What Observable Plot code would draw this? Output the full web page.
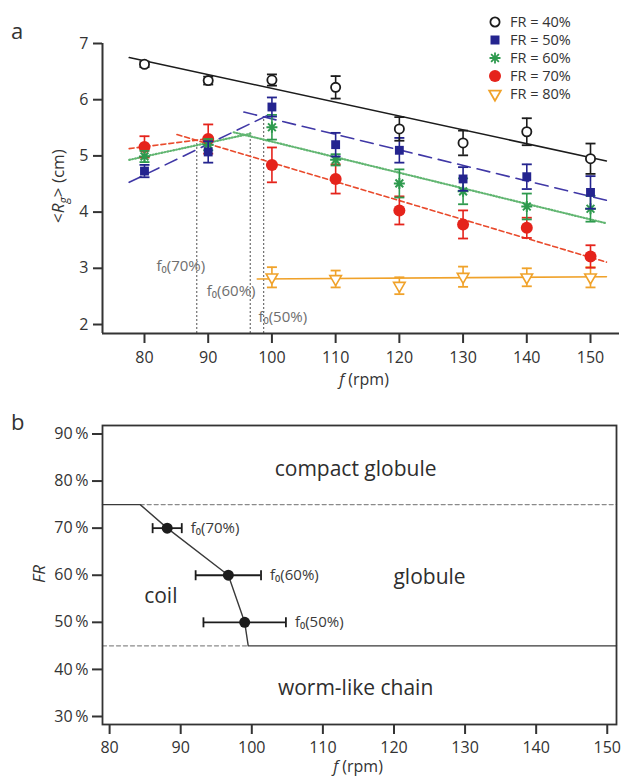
<!DOCTYPE html>
<html><head><meta charset="utf-8">
<script src="https://cdn.jsdelivr.net/npm/d3@7"></script>
<script src="https://cdn.jsdelivr.net/npm/@observablehq/plot@0.6"></script>
<style>
body{margin:0;background:#fff;}
#wrap{position:relative;width:623px;height:780px;overflow:hidden;font-family:"Open Sans",sans-serif;color:#333;background:#fff}
.pane{position:absolute;left:0;width:623px;height:390px}
</style></head>
<body><div id="wrap"><div id="pa" class="pane" style="top:0"></div><div id="pb" class="pane" style="top:390px"></div></div>
<script>
// ---------- Panel a data ----------
const speeds = [80, 90, 100, 110, 120, 130, 140, 150];
const speeds80 = [100, 110, 120, 130, 140, 150];
const rg40 = [6.63, 6.34, 6.35, 6.22, 5.48, 5.23, 5.43, 4.95];
const err40 = [0.05, 0.07, 0.10, 0.20, 0.21, 0.22, 0.24, 0.27];
const rg50 = [4.73, 5.07, 5.87, 5.20, 5.10, 4.59, 4.63, 4.35];
const err50 = [0.11, 0.19, 0.17, 0.21, 0.22, 0.21, 0.22, 0.29];
const rg60 = [4.99, 5.20, 5.51, 4.93, 4.51, 4.37, 4.10, 4.06];
const err60 = [0.10, 0.10, 0.22, 0.10, 0.25, 0.23, 0.23, 0.23];
const rg70 = [5.16, 5.30, 4.84, 4.59, 4.03, 3.78, 3.72, 3.21];
const err70 = [0.19, 0.26, 0.31, 0.26, 0.25, 0.25, 0.18, 0.20];
const rg80 = [2.84, 2.81, 2.69, 2.85, 2.84, 2.84];
const err80 = [0.18, 0.15, 0.15, 0.18, 0.16, 0.18];

// fitted lines (end points)
const fit40F = [77.6, 152.5], fit40Rg = [6.75, 4.91];
const fit50aF = [77.6, 99.3], fit50aRg = [4.53, 5.72];
const fit50bF = [95.6, 152.5], fit50bRg = [5.78, 4.21];
const fit60aF = [77.6, 96.8], fit60aRg = [4.93, 5.40];
const fit60bF = [94.0, 152.5], fit60bRg = [5.42, 3.80];
const fit70aF = [77.6, 89.5], fit70aRg = [5.13, 5.30];
const fit70bF = [85.1, 152.5], fit70bRg = [5.38, 3.11];
const fit80F = [97.7, 152.5], fit80Rg = [2.81, 2.85];

const f0Speeds = [88.2, 96.6, 98.7];
const f0Tops = [5.28, 5.41, 5.69];
const f0Labels = ["f\u2080(70%)", "f\u2080(60%)", "f\u2080(50%)"];
const f0LabelF = [85.7, 93.6, 101.7];
const f0LabelRg = [3.04, 2.59, 2.13];

const xTicksA = [80, 90, 100, 110, 120, 130, 140, 150];
const yTicksA = [2, 3, 4, 5, 6, 7];
const xDomainA = [73.41, 154.55];
const yDomainA = [1.84, 7];

const legendLabels = ["FR = 40%", "FR = 50%", "FR = 60%", "FR = 70%", "FR = 80%"];

// ---------- Panel b data ----------
const frLevels = [70, 60, 50];
const f0Values = [88.1, 96.7, 99.0];
const f0Errors = [2.05, 4.6, 5.8];
const f0PointLabels = ["f\u2080(70%)", "f\u2080(60%)", "f\u2080(50%)"];
const boundaryF = [79, 84.3, 88.1, 96.7, 99.0, 99.5, 151.3];
const boundaryFR = [75, 75, 70, 60, 50, 45, 45];
const upperDashF = [84.3, 151.3], upperDashFR = [75, 75];
const lowerDashF = [79, 99.5], lowerDashFR = [45, 45];
const regionNames = ["compact globule", "globule", "coil", "worm-like chain"];
const regionF = [114.6, 125.0, 87.2, 114.6];
const regionFR = [82.6, 59.6, 55.6, 36.0];
const xTicksB = [80, 90, 100, 110, 120, 130, 140, 150];
const yTicksB = [30, 40, 50, 60, 70, 80, 90];
const xDomainB = [79, 151.3];
const yDomainB = [28.3, 91.8];

// ---------- helpers ----------
const C = {k: "#1c1c1c", b: "#24248f", bl: "#4038a6", g: "#2e9a4e", gl: "#62b672", r: "#e5231b", rl: "#e94a2c", o: "#f0a22a", ax: "#333333", grey: "#6e6e6e"};
const capSym = {draw(ctx) { ctx.moveTo(-5, 0); ctx.lineTo(5, 0); }};
const starSym = {draw(ctx) { const r = 5.5; for (let k = 0; k < 4; k++) { const a = k * Math.PI / 4; ctx.moveTo(-r * Math.cos(a), -r * Math.sin(a)); ctx.lineTo(r * Math.cos(a), r * Math.sin(a)); } }};

function rows(fs, vs, es) { return fs.map((f, i) => ({f, v: vs[i], lo: vs[i] - (es ? es[i] : 0), hi: vs[i] + (es ? es[i] : 0)})); }
function seg(fs, vs) { return fs.map((f, i) => ({f, v: vs[i]})); }

const d40 = rows(speeds, rg40, err40), d50 = rows(speeds, rg50, err50), d60 = rows(speeds, rg60, err60), d70 = rows(speeds, rg70, err70), d80 = rows(speeds80, rg80, err80);

function errMarks(d, color) {
  return [
    Plot.ruleX(d, {x: "f", y1: "lo", y2: "hi", stroke: color, strokeWidth: 1.6}),
    Plot.dot(d, {x: "f", y: "lo", symbol: capSym, fill: "none", stroke: color, strokeWidth: 1.8}),
    Plot.dot(d, {x: "f", y: "hi", symbol: capSym, fill: "none", stroke: color, strokeWidth: 1.8})
  ];
}
function fitLine(fs, vs, color, dash, w) {
  return Plot.line(seg(fs, vs), {x: "f", y: "v", stroke: color, strokeWidth: w || 1.5, strokeDasharray: dash || null});
}

const f0Data = f0Speeds.map((f, i) => ({f, top: f0Tops[i], lf: f0LabelF[i], lr: f0LabelRg[i], label: f0Labels[i]}));

const svgA = Plot.plot({
  width: 623, height: 390,
  marginLeft: 102, marginRight: 4, marginTop: 43, marginBottom: 57,
  style: {fontFamily: "'Open Sans', sans-serif", fontSize: "16px", color: C.ax, background: "transparent", overflow: "visible"},
  x: {domain: xDomainA},
  y: {domain: yDomainA},
  marks: [
    Plot.ruleX(f0Data, {x: "f", y1: yDomainA[0], y2: "top", stroke: C.grey, strokeWidth: 1.2, strokeDasharray: "2,2"}),
    Plot.text(f0Data, {x: "lf", y: "lr", text: "label", fill: C.grey, fontSize: 15}),
    fitLine(fit80F, fit80Rg, C.o, null, 1.6),
    fitLine(fit70aF, fit70aRg, C.rl, "5,3", 1.6),
    fitLine(fit70bF, fit70bRg, C.rl, "5,3", 1.6),
    fitLine(fit60aF, fit60aRg, C.gl, "1,2", 2.2),
    fitLine(fit60bF, fit60bRg, C.gl, "1,2", 2.2),
    fitLine(fit50aF, fit50aRg, C.bl, "13,7", 1.6),
    fitLine(fit50bF, fit50bRg, C.bl, "13,7", 1.6),
    fitLine(fit40F, fit40Rg, C.k, null, 1.5),
    ...errMarks(d80, C.o),
    Plot.dot(d80, {x: "f", y: "v", symbol: "triangle", rotate: 180, r: 4.3, fill: "white", stroke: C.o, strokeWidth: 1.6}),
    ...errMarks(d70, C.r),
    Plot.dot(d70, {x: "f", y: "v", symbol: "circle", r: 6, fill: C.r, stroke: "none"}),
    ...errMarks(d60, C.g),
    Plot.dot(d60, {x: "f", y: "v", symbol: starSym, fill: "none", stroke: C.g, strokeWidth: 2}),
    ...errMarks(d50, C.b),
    Plot.dot(d50, {x: "f", y: "v", symbol: "square", r: 5, fill: C.b, stroke: "none"}),
    ...errMarks(d40, C.k),
    Plot.dot(d40, {x: "f", y: "v", symbol: "circle", r: 4.6, fill: "white", stroke: C.k, strokeWidth: 1.8}),
    Plot.ruleX([xDomainA[0]], {stroke: C.ax, strokeWidth: 2}),
    Plot.ruleY([yDomainA[0]], {stroke: C.ax, strokeWidth: 2}),
    Plot.axisX(xTicksA, {tickSize: 10, tickPadding: 8, label: null, stroke: C.ax, strokeWidth: 2, tickFormat: d => String(d)}),
    Plot.axisY(yTicksA, {tickSize: 9, tickPadding: 5, label: null, stroke: C.ax, strokeWidth: 2, tickFormat: d => String(d)})
  ]
});
document.getElementById("pa").appendChild(svgA);

// panel a extras: axis titles, panel letter, legend
const sa = d3.select(svgA);
const yl = sa.append("text").attr("transform", "translate(64,186) rotate(-90)").attr("text-anchor", "middle").attr("font-size", 17).attr("fill", C.ax);
yl.append("tspan").text("<");
yl.append("tspan").attr("font-style", "italic").text("R");
yl.append("tspan").attr("font-style", "italic").attr("font-size", 12).attr("dy", 4).text("g");
yl.append("tspan").attr("dy", -4).text("> (cm)");
const xl = sa.append("text").attr("x", 364).attr("y", 385).attr("text-anchor", "middle").attr("font-size", 16).attr("fill", C.ax);
xl.append("tspan").attr("font-style", "italic").text("f");
xl.append("tspan").text(" (rpm)");
sa.append("text").attr("x", 11).attr("y", 39).attr("text-anchor", "start").attr("font-size", 22).attr("fill", C.ax).text("a");

const legendSyms = [
  {sym: d3.symbolCircle, size: Math.PI * 4.6 * 4.6, fill: "white", stroke: C.k, rot: 0},
  {sym: d3.symbolSquare, size: 81, fill: C.b, stroke: "none", rot: 0},
  {sym: starSym, size: 1, fill: "none", stroke: C.g, rot: 0},
  {sym: d3.symbolCircle, size: Math.PI * 36, fill: C.r, stroke: "none", rot: 0},
  {sym: d3.symbolTriangle, size: Math.PI * 4.3 * 4.3, fill: "white", stroke: C.o, rot: 180}
];
const lg = sa.append("g").attr("class", "legend").attr("text-anchor", "start");
legendLabels.forEach((lab, i) => {
  const y = 22 + i * 18;
  const s = legendSyms[i];
  lg.append("path").attr("d", d3.symbol(s.sym, s.size)()).attr("transform", `translate(495,${y}) rotate(${s.rot})`)
    .attr("fill", s.fill).attr("stroke", s.stroke).attr("stroke-width", s.stroke === "none" ? 0 : 1.8);
  lg.append("text").attr("x", 510).attr("y", y).attr("dy", "0.35em").attr("text-anchor", "start").attr("font-size", 14.5).attr("fill", C.ax).text(lab);
});

// ---------- Panel b ----------
const pts = frLevels.map((fr, i) => ({fr, f: f0Values[i], lo: f0Values[i] - f0Errors[i], hi: f0Values[i] + f0Errors[i], label: f0PointLabels[i]}));
const regions = regionNames.map((t, i) => ({t, f: regionF[i], fr: regionFR[i]}));
const vCap = {draw(ctx) { ctx.moveTo(0, -5); ctx.lineTo(0, 5); }};

const svgB = Plot.plot({
  width: 623, height: 390,
  marginLeft: 102, marginRight: 7, marginTop: 35, marginBottom: 56,
  style: {fontFamily: "'Open Sans', sans-serif", fontSize: "16px", color: C.ax, background: "transparent", overflow: "visible"},
  x: {domain: xDomainB},
  y: {domain: yDomainB},
  marks: [
    Plot.line(seg(upperDashF, upperDashFR), {x: "f", y: "v", stroke: "#8a8a8a", strokeWidth: 1.3, strokeDasharray: "4,3"}),
    Plot.line(seg(lowerDashF, lowerDashFR), {x: "f", y: "v", stroke: "#8a8a8a", strokeWidth: 1.3, strokeDasharray: "4,3"}),
    Plot.line(seg(boundaryF, boundaryFR), {x: "f", y: "v", stroke: "#3a3a3a", strokeWidth: 1.4}),
    Plot.ruleY(pts, {y: "fr", x1: "lo", x2: "hi", stroke: C.k, strokeWidth: 1.8}),
    Plot.dot(pts, {x: "lo", y: "fr", symbol: vCap, fill: "none", stroke: C.k, strokeWidth: 1.8}),
    Plot.dot(pts, {x: "hi", y: "fr", symbol: vCap, fill: "none", stroke: C.k, strokeWidth: 1.8}),
    Plot.dot(pts, {x: "f", y: "fr", r: 5.5, fill: C.k, stroke: "none"}),
    Plot.text(pts, {x: "hi", y: "fr", text: "label", textAnchor: "start", dx: 9, fontSize: 15, fill: "#3a3a3a"}),
    Plot.text(regions, {x: "f", y: "fr", text: "t", fontSize: 21, fill: "#2e2e2e"}),
    Plot.frame({stroke: C.ax, strokeWidth: 1.8}),
    Plot.axisX(xTicksB, {tickSize: 10, tickPadding: 7, label: null, stroke: C.ax, strokeWidth: 2, tickFormat: d => String(d)}),
    Plot.axisY(yTicksB, {tickSize: 10, tickPadding: 4, label: null, stroke: C.ax, strokeWidth: 2, tickFormat: d => d + "\u2009%"})
  ]
});
document.getElementById("pb").appendChild(svgB);

const sb = d3.select(svgB);
sb.append("text").attr("transform", "translate(45,184) rotate(-90)").attr("text-anchor", "middle").attr("font-size", 17).attr("fill", C.ax).attr("font-style", "italic").text("FR");
const xlb = sb.append("text").attr("x", 358).attr("y", 382).attr("text-anchor", "middle").attr("font-size", 16).attr("fill", C.ax);
xlb.append("tspan").attr("font-style", "italic").text("f");
xlb.append("tspan").text(" (rpm)");
sb.append("text").attr("x", 11).attr("y", 40).attr("text-anchor", "start").attr("font-size", 22).attr("fill", C.ax).text("b");
</script>
</body></html>
